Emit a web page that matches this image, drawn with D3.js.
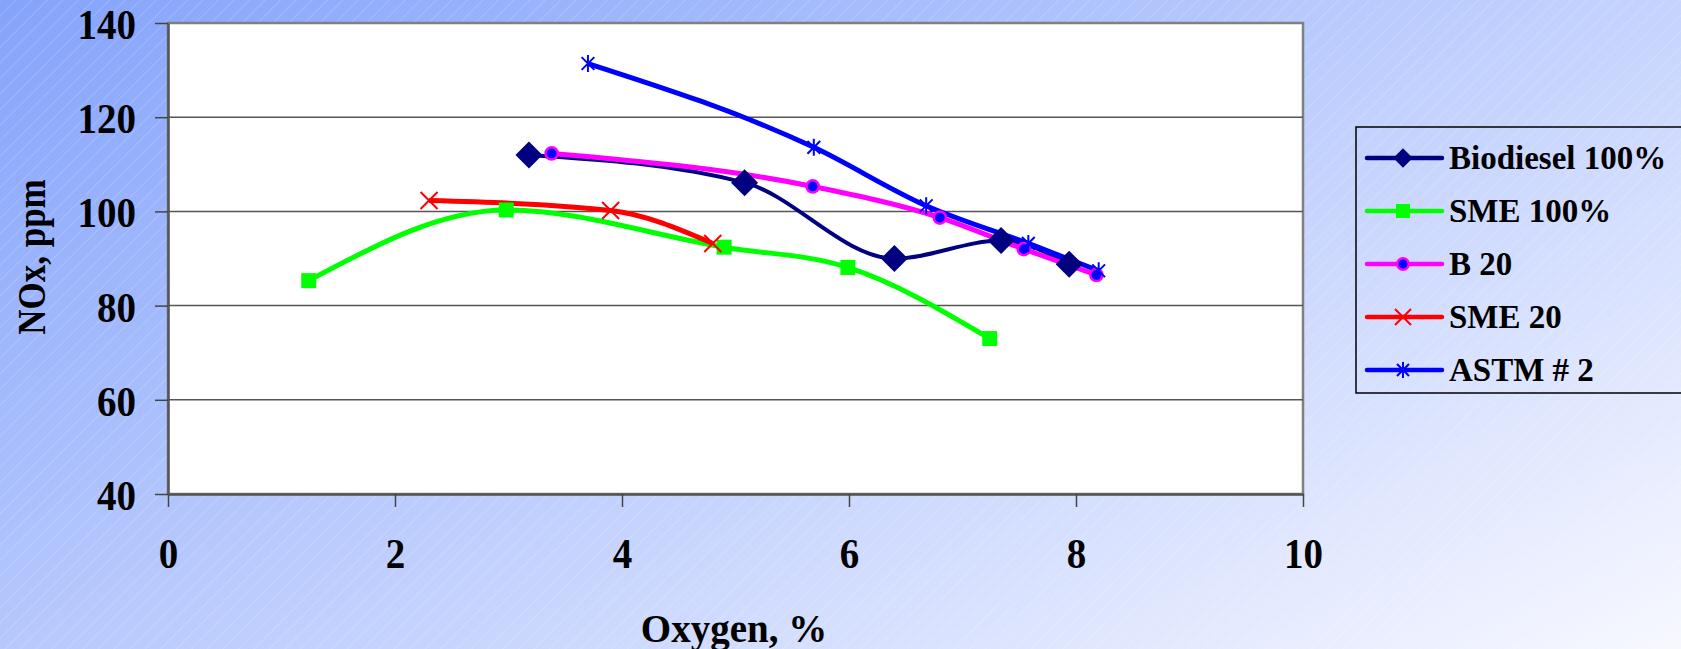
<!DOCTYPE html>
<html>
<head>
<meta charset="utf-8">
<script src="https://cdn.jsdelivr.net/npm/d3@7"></script>
<style>
  body { margin: 0; overflow: hidden; }
  text { font-family: "Liberation Serif", "Times New Roman", serif; font-weight: bold; fill: #000; }
</style>
</head>
<body>
<div class="chart"></div>
<script>
// values: oxygen %, NOx ppm
var bioX = [3.18, 5.08, 6.40, 7.34, 7.94];
var bioY = [112.0, 106.1, 90.0, 93.8, 88.8];
var sme100X = [1.24, 2.98, 4.90, 5.99, 7.24];
var sme100Y = [85.3, 100.3, 92.4, 88.1, 73.0];
var b20X = [3.38, 5.68, 6.80, 7.54, 8.18];
var b20Y = [112.3, 105.3, 98.7, 92.0, 86.5];
var sme20X = [2.30, 3.90, 4.80];
var sme20Y = [102.3, 100.2, 93.2];
var astmX = [3.70, 5.69, 6.68, 7.58, 8.20];
var astmY = [131.4, 113.6, 101.2, 93.2, 87.4];

var seriesNames = ["Biodiesel 100%", "SME 100%", "B 20", "SME 20", "ASTM # 2"];
var xTicks = [0, 2, 4, 6, 8, 10];
var yTicks = [40, 60, 80, 100, 120, 140];

var width = 1681, height = 649;
var plot = {left: 168, right: 1303, top: 23, bottom: 494};

// marker shapes (size = width squared)
var diamond = {draw: function(ctx, size) {
  var r = Math.sqrt(size) / 2;
  ctx.moveTo(0, -r); ctx.lineTo(r, 0); ctx.lineTo(0, r); ctx.lineTo(-r, 0); ctx.closePath();
}};
var square = {draw: function(ctx, size) {
  var r = Math.sqrt(size) / 2;
  ctx.rect(-r, -r, 2 * r, 2 * r);
}};
var dot = {draw: function(ctx, size) {
  var r = Math.sqrt(size) / 2;
  ctx.moveTo(r, 0); ctx.arc(0, 0, r, 0, 2 * Math.PI);
}};
var cross = {draw: function(ctx, size) {
  var r = Math.sqrt(size) / 2;
  ctx.moveTo(-r, -r); ctx.lineTo(r, r); ctx.moveTo(-r, r); ctx.lineTo(r, -r);
}};
var star = {draw: function(ctx, size) {
  var r = Math.sqrt(size) / 2, a = r * 0.75;
  ctx.moveTo(0, -r); ctx.lineTo(0, r);
  ctx.moveTo(-a, -a); ctx.lineTo(a, a); ctx.moveTo(-a, a); ctx.lineTo(a, -a);
}};

var series = [
  {name: seriesNames[0], xs: bioX, ys: bioY, line: "#000080", lw: 4, type: diamond, size: 729, lsize: 380, fill: "#000080", stroke: "none", sw: 0},
  {name: seriesNames[1], xs: sme100X, ys: sme100Y, line: "#00ff00", lw: 5, type: square, size: 225, lsize: 196, fill: "#00ff00", stroke: "none", sw: 0},
  {name: seriesNames[2], xs: b20X, ys: b20Y, line: "#ff00ff", lw: 5, type: dot, size: 150, lsize: 130, fill: "#0000ff", stroke: "#ff00ff", sw: 2.5},
  {name: seriesNames[3], xs: sme20X, ys: sme20Y, line: "#ff0000", lw: 5, type: cross, size: 289, lsize: 256, fill: "none", stroke: "#ff0000", sw: 2},
  {name: seriesNames[4], xs: astmX, ys: astmY, line: "#0000ff", lw: 5, type: star, size: 289, lsize: 256, fill: "none", stroke: "#0000ff", sw: 2}
];
series.forEach(function(s) {
  s.values = s.xs.map(function(v, i) { return {x: v, y: s.ys[i]}; });
});

var x = d3.scaleLinear().domain([0, 10]).range([plot.left, plot.right]);
var y = d3.scaleLinear().domain([40, 140]).range([plot.bottom, plot.top]);

var svg = d3.select(".chart")
    .append("svg")
    .attr("width", width)
    .attr("height", height);

// background: diagonal blue gradient with faint hatching
var defs = svg.append("defs");
var bg = defs.append("linearGradient")
    .attr("id", "bg")
    .attr("gradientUnits", "userSpaceOnUse")
    .attr("x1", 0).attr("y1", 0)
    .attr("x2", 596).attr("y2", 1192);
bg.append("stop").attr("offset", "0%").attr("stop-color", "#84a3fb");
bg.append("stop").attr("offset", "100%").attr("stop-color", "#f7f8ff");

var hatch = defs.append("pattern")
    .attr("id", "hatch")
    .attr("patternUnits", "userSpaceOnUse")
    .attr("width", 11).attr("height", 11)
    .attr("patternTransform", "rotate(45)");
hatch.append("line")
    .attr("x1", 0).attr("y1", 0).attr("x2", 0).attr("y2", 11)
    .style("stroke", "#fff")
    .style("stroke-opacity", 0.35)
    .style("stroke-width", 1);

svg.append("rect").attr("width", width).attr("height", height).style("fill", "url(#bg)");
svg.append("rect").attr("width", width).attr("height", height).style("fill", "url(#hatch)");

// plot area
svg.append("rect")
    .attr("x", plot.left).attr("y", plot.top)
    .attr("width", plot.right - plot.left)
    .attr("height", plot.bottom - plot.top)
    .style("fill", "#fff")
    .style("stroke", "#808080")
    .style("stroke-width", 2.5);

svg.append("g")
    .attr("class", "grid")
  .selectAll("line")
    .data(yTicks.filter(function(d) { return d > 40 && d < 140; }))
  .enter().append("line")
    .attr("x1", plot.left).attr("x2", plot.right)
    .attr("y1", function(d) { return y(d); })
    .attr("y2", function(d) { return y(d); })
    .style("stroke", "#555")
    .style("stroke-width", 1.5);

// axes
var xAxis = d3.axisBottom(x).tickValues(xTicks).tickSize(13).tickSizeOuter(0);
var yAxis = d3.axisLeft(y).tickValues(yTicks).tickSize(13).tickSizeOuter(0);

var gx = svg.append("g")
    .attr("class", "x axis")
    .attr("transform", "translate(0," + plot.bottom + ")")
    .call(xAxis);
gx.selectAll("text")
    .attr("y", null).attr("dy", null)
    .attr("transform", "translate(0,74) scale(1,1.08)")
    .style("font-size", "39px");

var gy = svg.append("g")
    .attr("class", "y axis")
    .attr("transform", "translate(" + plot.left + ",0)")
    .call(yAxis);
gy.selectAll("text")
    .attr("x", -32).attr("dy", null)
    .attr("transform", "translate(0,15.5) scale(1,1.08)")
    .style("font-size", "39px");

svg.selectAll(".axis path").style("stroke", "#555").style("stroke-width", 2.5);
svg.selectAll(".axis line").style("stroke", "#444").style("stroke-width", 1.5);

// axis titles
svg.append("text")
    .attr("transform", "translate(734,642)")
    .attr("text-anchor", "middle")
    .style("font-size", "39px")
    .text("Oxygen, %");

svg.append("text")
    .attr("transform", "translate(45,257) rotate(-90) scale(1,1.15)")
    .attr("text-anchor", "middle")
    .style("font-size", "35px")
    .text("NOx, ppm");

// lines first, then markers on top
var line = d3.line()
    .x(function(d) { return x(d.x); })
    .y(function(d) { return y(d.y); })
    .curve(d3.curveMonotoneX);

svg.append("g")
    .attr("class", "lines")
  .selectAll("path")
    .data(series)
  .enter().append("path")
    .attr("d", function(s) { return line(s.values); })
    .style("fill", "none")
    .style("stroke", function(s) { return s.line; })
    .style("stroke-width", function(s) { return s.lw; })
    .style("stroke-linejoin", "round");

var marks = svg.append("g").attr("class", "markers");
series.forEach(function(s) {
  marks.selectAll(null)
      .data(s.values)
    .enter().append("path")
      .attr("transform", function(d) { return "translate(" + x(d.x) + "," + y(d.y) + ")"; })
      .attr("d", d3.symbol().type(s.type).size(s.size))
      .style("fill", s.fill)
      .style("stroke", s.stroke)
      .style("stroke-width", s.sw);
});

// legend
var key = svg.append("g").attr("class", "legend");
key.append("rect")
    .attr("x", 1356).attr("y", 127)
    .attr("width", 400).attr("height", 266)
    .style("fill", "none")
    .style("stroke", "#000")
    .style("stroke-width", 1.5);

var item = key.selectAll(".item")
    .data(series)
  .enter().append("g")
    .attr("class", "item")
    .attr("transform", function(s, i) { return "translate(1367," + (158 + i * 53) + ")"; });

item.append("line")
    .attr("x1", 0).attr("x2", 75)
    .style("stroke", function(s) { return s.line; })
    .style("stroke-width", 4.5)
    .style("stroke-linecap", "round");

item.append("path")
    .attr("transform", "translate(36,0)")
    .attr("d", function(s) { return d3.symbol().type(s.type).size(s.lsize)(); })
    .style("fill", function(s) { return s.fill; })
    .style("stroke", function(s) { return s.stroke; })
    .style("stroke-width", function(s) { return s.sw; });

item.append("text")
    .attr("x", 82)
    .attr("y", 11)
    .style("font-size", "33px")
    .text(function(s) { return s.name; });
</script>
</body>
</html>
